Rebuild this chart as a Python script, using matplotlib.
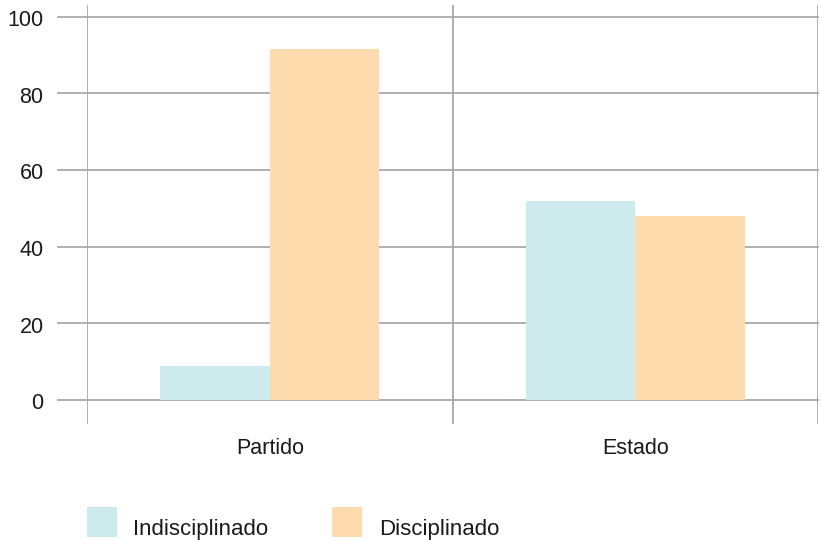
import matplotlib
matplotlib.use("Agg")
import matplotlib.pyplot as plt
from matplotlib.patches import Rectangle
import numpy as np

categories = ["Partido", "Estado"]
series_names = ["Indisciplinado", "Disciplinado"]
indisciplinado = [8.8, 51.9]
disciplinado = [91.6, 48.1]
yticks = [0, 20, 40, 60, 80, 100]

colors = ["#CDEBED", "#FDDBAD"]
grid_color = "#A9A9A9"
text_color = "#1A1A1A"

plt.rcParams['font.family'] = ['Liberation Sans', 'DejaVu Sans']

W, H = 821, 540
fig = plt.figure(figsize=(W/100, H/100), dpi=100)
ax = fig.add_axes([87/W, 116/H, (818-87)/W, (535-116)/H])
ax.set_xlim(-0.5, 1.5)
ax.set_ylim(-6.27, 103.1)
for s in ax.spines.values():
    s.set_visible(False)

x = np.arange(len(categories))
w = 0.3
b1 = ax.bar(x - w/2, indisciplinado, w, color=colors[0], label=series_names[0], zorder=3)
b2 = ax.bar(x + w/2, disciplinado, w, color=colors[1], label=series_names[1], zorder=3)

# gridlines extending left of the axis
for t in yticks:
    ax.plot([-0.579, 1.5], [t, t], color=grid_color, lw=1.3, clip_on=False, zorder=2)
# vertical lines
for xv in [-0.5, 0.5, 1.5]:
    ax.axvline(xv, color=grid_color, lw=1.3, zorder=2)

fs = 15.5
ax.set_xticks([])
ax.set_yticks([])
for t in yticks:
    ax.text(-0.619, t - 1.0, str(t), ha='right', va='center', fontsize=fs, color=text_color, clip_on=False)
for i, c in enumerate(categories):
    ax.text(x[i], -9.8, c, ha='center', va='top', fontsize=fs, color=text_color, clip_on=False)

# legend
leg_items = [(87, 133), (332, 379)]
for (sx, tx), name, col in zip(leg_items, series_names, colors):
    fig.patches.append(Rectangle((sx/W, 3/H), 30/W, 30/H, transform=fig.transFigure,
                                 facecolor=col, edgecolor='none'))
    fig.text(tx/W, 5/H, name, ha='left', va='baseline', fontsize=16, color=text_color)

fig.savefig("out.png", dpi=100)
